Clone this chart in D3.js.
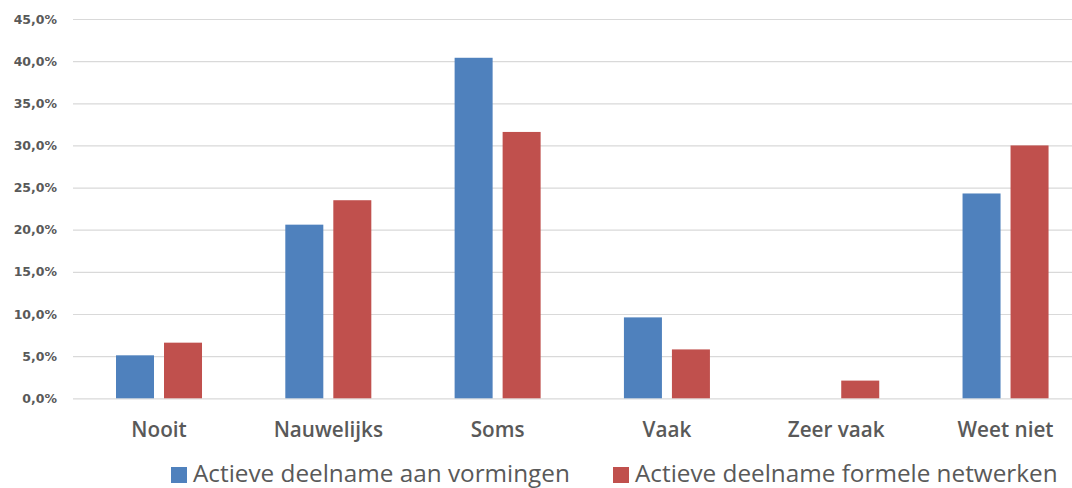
<!DOCTYPE html>
<html>
<head>
<meta charset="utf-8">
<script src="https://cdn.jsdelivr.net/npm/d3@7.9.0/dist/d3.min.js"></script>
<style>
  html, body { margin: 0; padding: 0; background: #fff; }
  svg { display: block; }
</style>
</head>
<body>
<div id="chart"></div>
<script>
// chart data
const categories = ["Nooit", "Nauwelijks", "Soms", "Vaak", "Zeer vaak", "Weet niet"];
const seriesNames = ["Actieve deelname aan vormingen", "Actieve deelname formele netwerken"];
const vormingen = [5.1, 20.6, 40.4, 9.6, 0.0, 24.3];
const netwerken = [6.6, 23.5, 31.6, 5.8, 2.1, 30.0];
const yTicks = [0, 5, 10, 15, 20, 25, 30, 35, 40, 45];
const colors = ["#4f81bd", "#c0504d"];

const width = 1072;
const height = 488;

const rows = categories.map((c, i) => ({
  category: c,
  values: [
    { series: seriesNames[0], value: vormingen[i] },
    { series: seriesNames[1], value: netwerken[i] },
  ],
}));

const svg = d3
  .select("#chart")
  .append("svg")
  .attr("width", width)
  .attr("height", height);

const plot = { left: 73, right: 1072, top: 19, bottom: 398.3 };

const y = d3.scaleLinear().domain([0, 45]).range([plot.bottom, plot.top]);

// bands are wider than the picture; the last one is cut at the right edge
const x0 = d3
  .scaleBand()
  .domain(categories)
  .range([74.35, 1090.2])
  .paddingInner(0.492)
  .paddingOuter(0.246);

const x1 = d3
  .scaleBand()
  .domain(seriesNames)
  .range([0, x0.bandwidth()])
  .paddingInner(0.2083);

const color = d3.scaleOrdinal().domain(seriesNames).range(colors);

const nl = d3.formatLocale({ decimal: ",", thousands: ".", grouping: [3], currency: ["€", ""] });
const pct = (d) => nl.format(".1f")(d) + "%";

// gridlines
svg
  .append("g")
  .attr("class", "grid")
  .attr("transform", `translate(${plot.left},0)`)
  .call(d3.axisRight(y).tickValues(yTicks).tickSize(plot.right - plot.left).tickFormat(""))
  .call((g) => g.select(".domain").remove())
  .call((g) => g.selectAll("line").attr("stroke", "#d9d9d9").attr("stroke-width", 1.2));

// y labels
svg
  .append("g")
  .attr("transform", `translate(62,0)`)
  .call(d3.axisLeft(y).tickValues(yTicks).tickSize(0).tickPadding(5).tickFormat(pct))
  .call((g) => g.select(".domain").remove())
  .call((g) =>
    g
      .selectAll("text")
      .attr("fill", "#595959")
      .style("font-family", "'DejaVu Sans', sans-serif")
      .style("font-weight", "bold")
      .style("font-size", "12.5px")
  );

// bars
svg
  .append("g")
  .selectAll("g")
  .data(rows)
  .join("g")
  .attr("transform", (d) => `translate(${x0(d.category)},0)`)
  .selectAll("rect")
  .data((d) => d.values)
  .join("rect")
  .attr("x", (d) => x1(d.series))
  .attr("width", x1.bandwidth())
  .attr("y", (d) => y(d.value))
  .attr("height", (d) => y(0) - y(d.value))
  .attr("fill", (d) => color(d.series));

// category labels
svg
  .append("g")
  .attr("transform", `translate(0,${plot.bottom})`)
  .call(d3.axisBottom(x0).tickSize(0))
  .call((g) => g.select(".domain").remove())
  .call((g) =>
    g
      .selectAll("text")
      .attr("y", 38.4)
      .attr("dy", 0)
      .attr("fill", "#595959")
      .style("font-family", "'Open Sans', sans-serif")
      .style("font-weight", 600)
      .style("font-size", "20.7px")
  );

// legend
const legendX = [171, 613];
const legend = svg
  .append("g")
  .selectAll("g")
  .data(seriesNames)
  .join("g")
  .attr("transform", (d, i) => `translate(${legendX[i]},0)`);

legend
  .append("rect")
  .attr("y", 467)
  .attr("width", 16)
  .attr("height", 16)
  .attr("fill", (d) => color(d));

legend
  .append("text")
  .attr("x", 22)
  .attr("y", 482)
  .attr("fill", "#595959")
  .style("font-family", "'Open Sans', sans-serif")
  .style("font-size", "24.3px")
  .text((d) => d);
</script>
</body>
</html>
